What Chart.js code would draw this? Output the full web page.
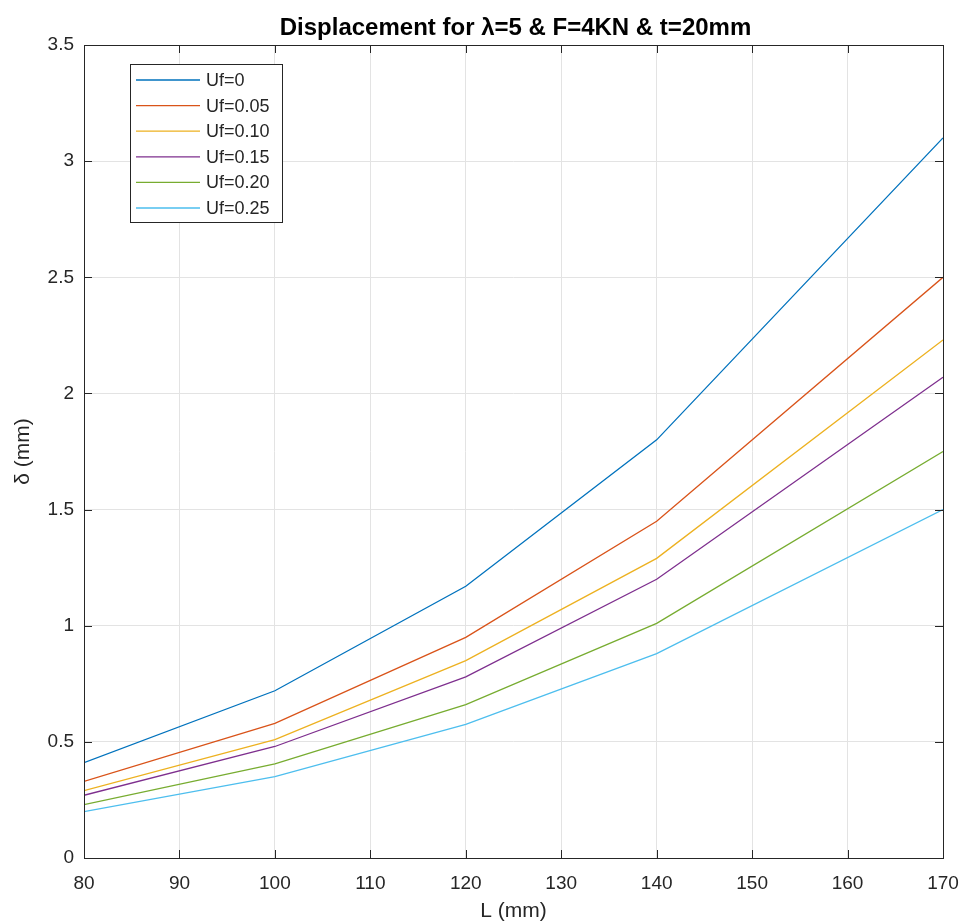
<!DOCTYPE html>
<html>
<head>
<meta charset="utf-8">
<script src="https://cdn.jsdelivr.net/npm/chart.js@4.4.1/dist/chart.umd.min.js"></script>
<style>
html,body{margin:0;padding:0;background:#fff;}
#wrap{width:964px;height:922px;}
</style>
</head>
<body>
<div id="wrap"><canvas id="c" width="964" height="922"></canvas></div>
<script>
const L = [80, 100, 120, 140, 170];
const uf0   = [0.41, 0.72, 1.17, 1.80, 3.10];
const uf005 = [0.33, 0.58, 0.95, 1.45, 2.50];
const uf010 = [0.29, 0.51, 0.85, 1.29, 2.23];
const uf015 = [0.27, 0.48, 0.78, 1.20, 2.07];
const uf020 = [0.23, 0.405, 0.66, 1.01, 1.75];
const uf025 = [0.20, 0.35, 0.575, 0.88, 1.50];
const seriesNames = ['Uf=0','Uf=0.05','Uf=0.10','Uf=0.15','Uf=0.20','Uf=0.25'];
const seriesColors = ['#0072BD','#D95319','#EDB120','#7E2F8E','#77AC30','#4DBEEE'];
const xTicks = [80,90,100,110,120,130,140,150,160,170];
const yTicks = [0,0.5,1,1.5,2,2.5,3,3.5];
const chartTitle = 'Displacement for λ=5 & F=4KN & t=20mm';

const allSeries = [uf0, uf005, uf010, uf015, uf020, uf025];
const datasets = allSeries.map((vals, i) => ({
  label: seriesNames[i],
  data: L.map((x, j) => ({x: x, y: vals[j]})),
  borderColor: seriesColors[i],
  backgroundColor: seriesColors[i],
  borderWidth: 1.3,
  pointRadius: 0,
  tension: 0,
  fill: false
}));

const FONT = 'Liberation Sans, Arial, Helvetica, sans-serif';
const AXC = '#262626';

const boxPlugin = {
  id: 'boxPlugin',
  afterDraw(chart) {
    const ctx = chart.ctx;
    const a = chart.chartArea;
    const xs = chart.scales.x, ys = chart.scales.y;
    ctx.save();
    ctx.strokeStyle = AXC;
    ctx.lineWidth = 1;
    const tl = 8;
    ctx.beginPath();
    xTicks.forEach(v => {
      const px = Math.round(xs.getPixelForValue(v)) + 0.5;
      ctx.moveTo(px, a.bottom); ctx.lineTo(px, a.bottom - tl);
      ctx.moveTo(px, a.top); ctx.lineTo(px, a.top + tl);
    });
    yTicks.forEach(v => {
      const py = Math.round(ys.getPixelForValue(v)) + 0.5;
      ctx.moveTo(a.left, py); ctx.lineTo(a.left + tl, py);
      ctx.moveTo(a.right, py); ctx.lineTo(a.right - tl, py);
    });
    ctx.stroke();
    ctx.strokeRect(Math.round(a.left) + 0.5, Math.round(a.top) + 0.5, Math.round(a.right - a.left), Math.round(a.bottom - a.top));

    // title centred over the axes
    ctx.fillStyle = '#000';
    ctx.font = 'bold 24px ' + FONT;
    ctx.textAlign = 'center';
    ctx.textBaseline = 'alphabetic';
    ctx.fillText(chartTitle, (a.left + a.right) / 2 + 2, 35);

    // legend box
    const lx = 130, ly = 64, lw = 152, lh = 158;
    ctx.fillStyle = '#ffffff';
    ctx.fillRect(lx, ly, lw, lh);
    ctx.strokeStyle = AXC;
    ctx.lineWidth = 1;
    ctx.strokeRect(lx + 0.5, ly + 0.5, lw, lh);
    ctx.font = '18px ' + FONT;
    ctx.textBaseline = 'middle';
    ctx.textAlign = 'left';
    chart.data.datasets.forEach((ds, i) => {
      const cy = 80 + i * 25.6;
      ctx.strokeStyle = ds.borderColor;
      ctx.lineWidth = 1.3;
      ctx.beginPath();
      ctx.moveTo(136, cy); ctx.lineTo(200, cy);
      ctx.stroke();
      ctx.fillStyle = AXC;
      ctx.fillText(ds.label, 206, cy + 1);
    });
    ctx.restore();
  }
};

new Chart(document.getElementById('c'), {
  type: 'line',
  data: { datasets: datasets },
  options: {
    responsive: false,
    animation: false,
    devicePixelRatio: 1,
    layout: { padding: { left: 0, right: 21, top: 45, bottom: 0 } },
    plugins: {
      legend: { display: false },
      tooltip: { enabled: false },
      title: { display: false }
    },
    scales: {
      x: {
        type: 'linear',
        min: 80, max: 170,
        afterBuildTicks(s) { s.ticks = xTicks.map(v => ({value: v})); },
        afterFit(s) { s.height = 64; s.paddingLeft = 0; s.paddingRight = 0; },
        grid: { color: '#e3e3e3', drawTicks: false, lineWidth: 1 },
        border: { display: false },
        ticks: { color: AXC, font: { family: FONT, size: 19 }, padding: 14, maxRotation: 0 },
        title: { display: true, text: 'L (mm)', color: AXC, font: { family: FONT, size: 21, lineHeight: 1 }, padding: { top: 0, bottom: 0 } }
      },
      y: {
        type: 'linear',
        min: 0, max: 3.5,
        afterBuildTicks(s) { s.ticks = yTicks.map(v => ({value: v})); },
        afterFit(s) { s.width = 84; s.paddingTop = 0; s.paddingBottom = 0; },
        grid: { color: '#e3e3e3', drawTicks: false, lineWidth: 1 },
        border: { display: false },
        ticks: { color: AXC, font: { family: FONT, size: 19 }, padding: 10,
                 callback: (v) => String(v) },
        title: { display: true, text: 'δ (mm)', color: AXC, font: { family: FONT, size: 21, lineHeight: 1 }, padding: { top: 13, bottom: 0 } }
      }
    }
  },
  plugins: [boxPlugin]
});
</script>
</body>
</html>
